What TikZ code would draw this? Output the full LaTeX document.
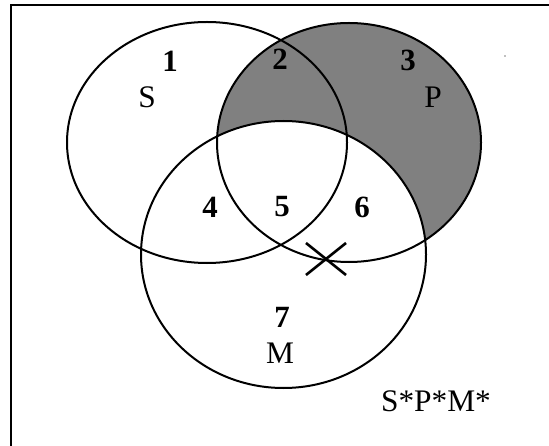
\documentclass[tikz,border=0pt]{standalone}
\usepackage{fontspec}
\setmainfont{Liberation Serif}
\definecolor{shadegray}{RGB}{128,128,128}
\tikzset{
  setline/.style={line width=2bp, draw=black},
  numlabel/.style={font=\fontsize{31}{31}\selectfont\bfseries, inner sep=0pt},
  letlabel/.style={font=\fontsize{31.5}{31.5}\selectfont, inner sep=0pt},
  frameline/.style={line width=2.2bp, draw=black},
}
\begin{document}
\begin{tikzpicture}[x=1bp,y=-1bp]
\useasboundingbox (0,0) rectangle (549,446);
\fill[white] (0,0) rectangle (549,446);
% frame (right and bottom sides lie outside the picture)
\coordinate (fbl) at (11,446);
\coordinate (ftl) at (11,5);
\coordinate (ftr) at (549,5);
\draw[frameline] (fbl) -- (ftl) -- (ftr);
% shading: P minus M
\fill[shadegray] (349,142.5) ellipse [x radius=132, y radius=119.5];
\fill[white] (283.5,254.5) ellipse [x radius=142.5, y radius=133.5];
% circles
\draw[setline] (207,142.5) ellipse [x radius=140, y radius=120.5];
\draw[setline] (349,142.5) ellipse [x radius=132, y radius=119.5];
\draw[setline] (283.5,254.5) ellipse [x radius=142.5, y radius=133.5];
% cross
\coordinate (xa) at (306,243);
\coordinate (xb) at (346,275);
\coordinate (xc) at (306,275);
\coordinate (xd) at (346,243);
\draw[line width=2.6bp] (xa) -- (xb);
\draw[line width=2.6bp] (xc) -- (xd);
% stray dot
\fill[gray] (505,56) circle (0.8);
% labels
\node[numlabel] (n1) at (170,61) {1};
\node[numlabel] (n2) at (280,59) {2};
\node[numlabel] (n3) at (408,60) {3};
\node[numlabel] (n4) at (210,207) {4};
\node[numlabel] (n5) at (282,207) {5};
\node[numlabel] (n6) at (362,207) {6};
\node[numlabel] (n7) at (282,317) {7};
\node[letlabel] (lS) at (147,97) {S};
\node[letlabel] (lP) at (433,97) {P};
\node[letlabel] (lM) at (280,353) {M};
\node[letlabel] (lform) at (436,401) {S*P*M*};
\end{tikzpicture}
\end{document}
